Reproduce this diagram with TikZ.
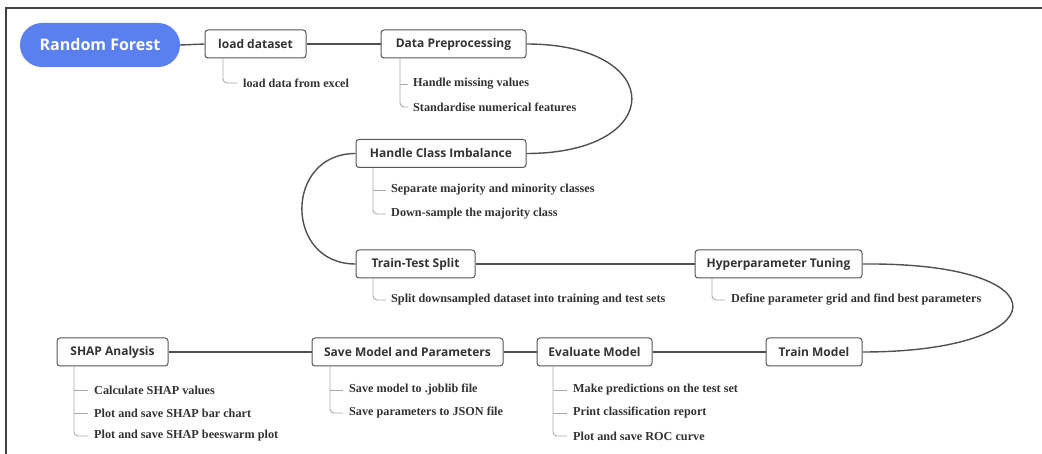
\documentclass[tikz,border=0pt]{standalone}
\usepackage{fontspec}
\setmainfont{Liberation Serif}
\newfontfamily\boxfont{Open Sans}
\newfontfamily\rffont{Open Sans}
\definecolor{boxc}{RGB}{85,85,85}
\definecolor{linec}{RGB}{80,80,80}
\definecolor{brkc}{RGB}{170,170,170}
\definecolor{itemc}{RGB}{50,50,50}
\definecolor{rfblue}{RGB}{90,128,240}
\tikzset{
  stepbox/.style={draw=boxc, line width=1pt, rounded corners=3pt, fill=white,
    minimum height=28pt, inner sep=0pt, text=black!80,
    font=\boxfont\bfseries\fontsize{12}{14}\selectfont},
  item/.style={anchor=west, inner sep=0pt, text=itemc,
    font=\fontsize{12.2}{14}\selectfont\bfseries},
  link/.style={draw=linec, line width=1.4pt},
  brk/.style={draw=brkc, line width=0.9pt, rounded corners=4pt},
}
\begin{document}
\begin{tikzpicture}[x=1pt,y=-1pt]
\useasboundingbox (0,0) rectangle (1042,454);
\draw[line width=2pt, draw=black!75] (6,454) -- (6,8) -- (1042,8);

% main nodes
\node[fill=rfblue, rounded corners=22pt, minimum width=160pt, minimum height=44pt,
      inner sep=0pt, text=white, font=\rffont\bfseries\fontsize{16}{18}\selectfont]
      (rf) at (100,45) {Random Forest};
\node[stepbox, minimum width=101pt] (load) at (255.5,44) {load dataset};
\node[stepbox, minimum width=145pt] (dp) at (453.5,44) {Data Preprocessing};
\node[stepbox, minimum width=170pt] (hci) at (441,153.5) {Handle Class Imbalance};
\node[stepbox, minimum width=119pt] (tts) at (415.5,264) {Train-Test Split};
\node[stepbox, minimum width=167pt] (ht) at (778.5,264) {Hyperparameter Tuning};
\node[stepbox, minimum width=96pt] (tm) at (814,352) {Train Model};
\node[stepbox, minimum width=115pt] (em) at (594.5,352) {Evaluate Model};
\node[stepbox, minimum width=191pt] (sm) at (407.5,352) {Save Model and Parameters};
\node[stepbox, minimum width=111pt] (shap) at (112.5,352) {SHAP Analysis};

% main connectors
\draw[link] (rf.east) -- (load.west);
\draw[link] (load.east) -- (dp.west);
\draw[link] (dp.east) .. controls (667,44) and (667,153.5) .. (hci.east);
\draw[link] (hci.west) .. controls (284,153.5) and (284,264) .. (tts.west);
\draw[link] (tts.east) -- (ht.west);
\draw[link] (ht.east) .. controls (1068,262) and (1058,352) .. (tm.east);
\draw[link] (tm.west) -- (em.east);
\draw[link] (em.west) -- (sm.east);
\draw[link] (sm.west) -- (shap.east);

% sub items
\node[item] (l1) at (243,83) {load data from excel};
\node[item] (d1) at (413,84) {Handle missing values};
\node[item] (d2) at (413,107) {Standardise numerical features};
\node[item] (h1) at (391,190) {Separate majority and minority classes};
\node[item] (h2) at (391,214) {Down-sample the majority class};
\node[item] (t1) at (391,300) {Split downsampled dataset into training and test sets};
\node[item] (p1) at (731,300) {Define parameter grid and find best parameters};
\node[item] (s1) at (94,390) {Calculate SHAP values};
\node[item] (s2) at (94,413) {Plot and save SHAP bar chart};
\node[item] (s3) at (94,436) {Plot and save SHAP beeswarm plot};
\node[item] (m1) at (349,390) {Save model to .joblib file};
\node[item] (m2) at (349,413) {Save parameters to JSON file};
\node[item] (e1) at (573,390) {Make predictions on the test set};
\node[item] (e2) at (573,413) {Print classification report};
\node[item] (e3) at (573,436) {Plot and save ROC curve};

% bracket x positions
\coordinate (lb) at (223,0);
\coordinate (db) at (400,0);
\coordinate (hb) at (373,0);
\coordinate (tb) at (373,0);
\coordinate (pb) at (712,0);
\coordinate (sb) at (74,0);
\coordinate (mb) at (330,0);
\coordinate (eb) at (553,0);

% brackets
\draw[brk] (load.south -| lb) |- ([xshift=-6pt]l1.west);
\draw[brk] (dp.south -| db) |- ([xshift=-5pt]d2.west);
\draw[brk] (d1.west -| db) -- ([xshift=-5pt]d1.west);
\draw[brk] (hci.south -| hb) |- ([xshift=-5pt]h2.west);
\draw[brk] (h1.west -| hb) -- ([xshift=-5pt]h1.west);
\draw[brk] (tts.south -| tb) |- ([xshift=-5pt]t1.west);
\draw[brk] (ht.south -| pb) |- ([xshift=-6pt]p1.west);
\draw[brk] (shap.south -| sb) |- ([xshift=-6pt]s3.west);
\draw[brk] (s1.west -| sb) -- ([xshift=-6pt]s1.west);
\draw[brk] (s2.west -| sb) -- ([xshift=-6pt]s2.west);
\draw[brk] (sm.south -| mb) |- ([xshift=-6pt]m2.west);
\draw[brk] (m1.west -| mb) -- ([xshift=-6pt]m1.west);
\draw[brk] (em.south -| eb) |- ([xshift=-6pt]e3.west);
\draw[brk] (e1.west -| eb) -- ([xshift=-6pt]e1.west);
\draw[brk] (e2.west -| eb) -- ([xshift=-6pt]e2.west);
\end{tikzpicture}
\end{document}
